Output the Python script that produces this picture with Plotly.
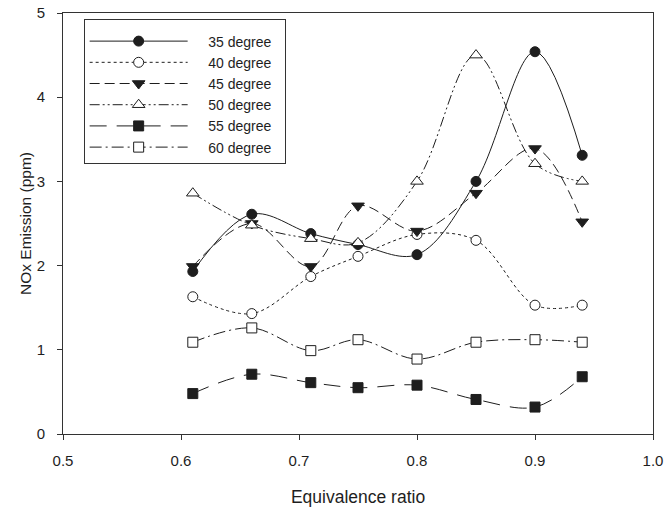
import plotly.graph_objects as go

# Equivalence ratio (x) shared by every series
equivalence_ratio = [0.61, 0.66, 0.71, 0.75, 0.80, 0.85, 0.90, 0.94]

# NOx emission (ppm) for each swirl angle
nox_35 = [1.93, 2.61, 2.38, 2.25, 2.13, 3.00, 4.54, 3.31]
nox_40 = [1.63, 1.43, 1.87, 2.11, 2.37, 2.30, 1.53, 1.53]
nox_45 = [1.99, 2.50, 1.99, 2.71, 2.41, 2.86, 3.39, 2.52]
nox_50 = [2.86, 2.48, 2.32, 2.27, 3.00, 4.50, 3.21, 3.00]
nox_55 = [0.48, 0.71, 0.61, 0.55, 0.58, 0.41, 0.32, 0.68]
nox_60 = [1.09, 1.26, 0.99, 1.12, 0.89, 1.09, 1.12, 1.09]

series_names = ["35 degree", "40 degree", "45 degree", "50 degree", "55 degree", "60 degree"]

x_ticks = [0.5, 0.6, 0.7, 0.8, 0.9, 1.0]
x_tick_text = ["0.5", "0.6", "0.7", "0.8", "0.9", "1.0"]
y_ticks = [0, 1, 2, 3, 4, 5]

INK = "#1e1e1e"
FONT = "Arial, 'Liberation Sans', sans-serif"
NBSP = "\u00a0"

styles = [
    dict(dash="solid", symbol="circle", fill=INK, size=10),
    dict(dash="dot", symbol="circle", fill="white", size=10),
    dict(dash="10px,5px", symbol="triangle-down", fill=INK, size=11),
    dict(dash="10px,3px,2px,3px,2px,3px", symbol="triangle-up", fill="white", size=11),
    dict(dash="17px,10px", symbol="square", fill=INK, size=10),
    dict(dash="12px,4px,2px,4px", symbol="square", fill="white", size=10),
]

fig = go.Figure()
for name, ys, st in zip(series_names, [nox_35, nox_40, nox_45, nox_50, nox_55, nox_60], styles):
    fig.add_trace(go.Scatter(
        x=equivalence_ratio, y=ys,
        name=NBSP * 4 + name + NBSP * 2, legendgroup=name,
        mode="lines+markers",
        line=dict(color=INK, width=1, dash=st["dash"], shape="spline", smoothing=1),
        marker=dict(symbol=st["symbol"], size=st["size"], color=st["fill"],
                    line=dict(color=INK, width=1)),
    ))

axis_common = dict(
    showline=True, linecolor="#333333", linewidth=1, mirror=True,
    ticks="outside", ticklen=5, tickwidth=1, tickcolor="#333333",
    showgrid=False, zeroline=False, automargin=False,
    tickfont=dict(family=FONT, size=15, color=INK),
)

fig.update_xaxes(range=[0.5, 1.0], tickvals=x_ticks, ticktext=x_tick_text,
                 ticklabelstandoff=8,
                 title=dict(text="Equivalence ratio", font=dict(family=FONT, size=17.5, color=INK),
                            standoff=22),
                 **axis_common)
fig.update_yaxes(range=[0, 5], tickvals=y_ticks,
                 ticklabelstandoff=9,
                 title=dict(text="NOx Emission (ppm)", font=dict(family=FONT, size=15.5, color=INK),
                            standoff=1),
                 **axis_common)

fig.update_layout(
    width=665, height=509,
    margin=dict(l=63, r=12, t=13, b=75),
    paper_bgcolor="white", plot_bgcolor="white",
    font=dict(family=FONT, color=INK),
    showlegend=True,
    legend=dict(
        x=0.035, y=0.985, xanchor="left", yanchor="top",
        bgcolor="white", bordercolor="#333333", borderwidth=1,
        font=dict(family=FONT, size=14, color=INK),
        title=dict(text=NBSP, font=dict(size=4)),
        itemwidth=98, tracegroupgap=6,
        traceorder="normal",
    ),
)

fig.write_html("out.html")
